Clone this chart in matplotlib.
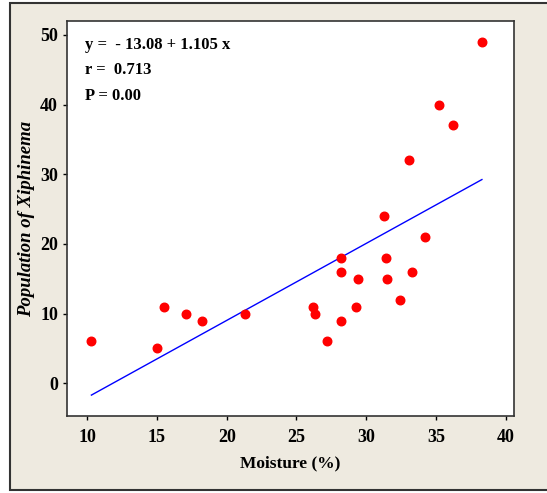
import numpy as np
import matplotlib.pyplot as plt
from matplotlib.patches import Rectangle

# Datos
humedad = [10.3, 15.0, 15.5, 17.1, 18.2, 21.3, 26.2, 26.3, 27.2, 28.2, 28.2, 28.2,
           29.4, 29.3, 31.3, 31.4, 31.5, 32.4, 33.1, 33.3, 34.2, 35.2, 36.2, 38.3]
poblacion = [6, 5, 11, 10, 9, 10, 11, 10, 6, 18, 16, 9,
             15, 11, 24, 18, 15, 12, 32, 16, 21, 40, 37, 49]
intercepto = -13.08
pendiente = 1.105
x_ticks = [10, 15, 20, 25, 30, 35, 40]
y_ticks = [0, 10, 20, 30, 40, 50]

plt.rcParams['font.family'] = ['Liberation Serif', 'DejaVu Serif']

fig = plt.figure(figsize=(5.47, 4.93), dpi=100)
fig.patch.set_facecolor('white')
# marco beige con borde oscuro
fig.patches.append(Rectangle((10 / 547, 3 / 493), 540 / 547, 487 / 493,
                             transform=fig.transFigure, facecolor='#eeeae0',
                             edgecolor='#333333', linewidth=1.5, zorder=-1))

ax = fig.add_axes([67 / 547, 1 - 416 / 493, 447 / 547, 395 / 493])
ax.set_facecolor('white')

x = np.array(humedad)
xs = np.sort(x)
ax.plot(xs, intercepto + pendiente * xs, color='#0000ff', linewidth=1)
ax.scatter(humedad, poblacion, s=38, color='#ff0000', zorder=3)

ax.set_xlim(8.55, 40.6)
ax.set_ylim(-4.7, 52.0)
ax.set_xticks(x_ticks)
ax.set_yticks(y_ticks)
ax.tick_params(direction='out', length=3, width=1, labelsize=13)
ax.tick_params(axis='x', pad=6)
for lab in ax.get_xticklabels() + ax.get_yticklabels():
    lab.set_fontweight('bold')
for s in ax.spines.values():
    s.set_linewidth(1.2)
    s.set_color('#333333')

ax.set_xlabel('Moisture (%)', fontsize=12.5, fontweight='bold', labelpad=7)
ax.set_ylabel('Population of Xiphinema', fontsize=13.5, fontweight='bold',
              style='italic', labelpad=4)

ax.text(0.04, 0.94, 'y =  - 13.08 + 1.105 x', transform=ax.transAxes,
        fontsize=12, fontweight='bold', va='center')
ax.text(0.04, 0.875, 'r =  0.713', transform=ax.transAxes,
        fontsize=12, fontweight='bold', va='center')
ax.text(0.04, 0.81, 'P = 0.00', transform=ax.transAxes,
        fontsize=12, fontweight='bold', va='center')

fig.savefig('out.png', dpi=100)
